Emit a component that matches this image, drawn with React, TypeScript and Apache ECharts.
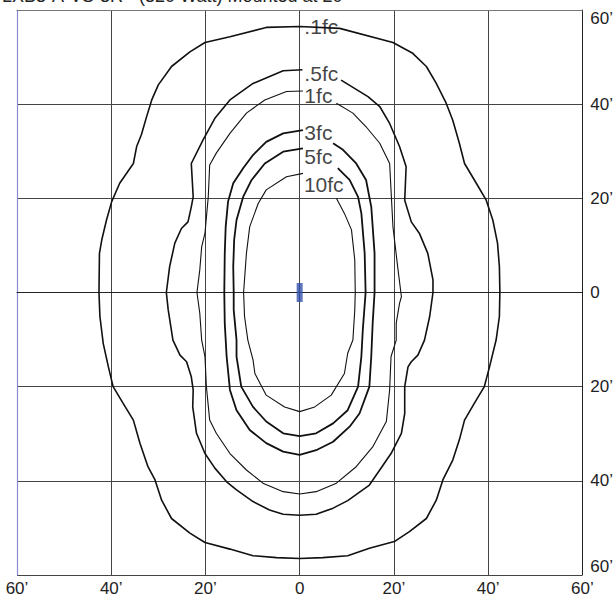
import React, { useEffect, useRef } from "react";
import * as echarts from "echarts";

const TITLE = "LXB3-A-VS-3R - (320 Watt) Mounted at 20’";
const AXIS_TICKS = [-60, -40, -20, 0, 20, 40, 60];

// Iso-footcandle contours, [x ft, y ft]
const fc01: number[][] = [
  [0, 56.5], [8.5, 56.1], [19.8, 53.1], [24.0, 50.8], [26.9, 48.0], [29.0, 44.4], [31.1, 40.2],
  [32.5, 36.6], [33.9, 31.7], [35.0, 27.4], [37.5, 23.2], [39.6, 19.6], [41.0, 15.4], [42.0, 10.5],
  [42.4, 5.5], [42.5, 0], [42.4, -5.1], [41.7, -10.1], [40.3, -15.8], [39.2, -20.0], [37.1, -23.5],
  [35.0, -27.1], [33.9, -31.3], [32.5, -35.6], [30.4, -39.8], [29.0, -44.1], [26.9, -48.0],
  [23.3, -50.8], [20.1, -52.9], [14.8, -54.3], [10.2, -55.9], [4.9, -56.3], [0, -56.5],
  [-4.9, -56.3], [-9.9, -55.9], [-14.8, -54.5], [-20.1, -53.1], [-23.3, -51.1], [-27.2, -48.0],
  [-29.3, -44.1], [-30.7, -39.8], [-32.2, -37.0], [-33.9, -32.0], [-35.3, -27.1], [-37.5, -23.5],
  [-39.6, -20.0], [-40.6, -15.8], [-41.7, -10.8], [-42.4, -5.1], [-42.6, 0], [-42.5, 8.3],
  [-42.0, 11.2], [-41.0, 15.4], [-39.9, 19.3], [-38.2, 23.2], [-35.3, 27.4], [-34.6, 31.0],
  [-33.6, 33.5], [-32.5, 37.3], [-31.4, 40.9], [-30.0, 44.1], [-27.2, 48.0], [-23.3, 51.1],
  [-20.1, 53.1], [-14.8, 54.3], [-7.1, 56.3], [0, 56.5],
];

const fc05: number[][] = [
  [8.8, 45.1], [14.5, 41.6], [17.0, 39.5], [19.1, 35.9], [21.2, 31.0], [22.6, 26.7], [22.3, 19.6],
  [23.7, 15.0], [25.4, 12.6], [27.2, 8.3], [28.3, 2.7], [28.3, 0], [27.6, -5.1], [26.5, -10.1],
  [25.1, -13.3], [23.7, -14.7], [23.0, -15.8], [22.3, -20.0], [22.3, -25.7], [21.6, -29.9],
  [19.4, -34.2], [17.0, -37.7], [14.8, -40.9], [10.2, -44.2], [7.1, -45.8], [3.5, -47.1], [0, -47.3],
  [-3.5, -47.1], [-6.4, -46.2], [-9.9, -44.4], [-13.4, -41.9], [-15.5, -40.2], [-18.0, -37.3],
  [-20.1, -34.2], [-21.9, -29.9], [-22.7, -24.3], [-22.6, -20.7], [-23.0, -17.9], [-24.0, -14.7],
  [-25.4, -13.3], [-26.9, -10.1], [-27.9, -3.7], [-28.3, 0], [-27.6, 5.5], [-26.5, 10.5],
  [-25.1, 13.6], [-23.7, 15.0], [-23.0, 18.2], [-22.6, 20.3], [-23.0, 27.4], [-20.5, 32.4],
  [-18.0, 37.0], [-14.8, 40.9], [-9.9, 44.4], [-3.5, 47.1], [0.6, 47.3],
];

const fc1: number[][] = [
  [7.8, 40.2], [11.3, 38.1], [14.1, 35.2], [17.0, 31.7], [19.1, 27.4], [19.8, 14.0], [20.8, 5.5],
  [21.6, -0.9], [21.2, -2.3], [20.5, -6.5], [20.5, -10.1], [19.4, -13.6], [19.1, -20.7],
  [18.4, -27.4], [15.5, -32.8], [12.0, -37.0], [7.8, -40.5], [3.5, -42.3], [0, -42.8],
  [-3.5, -42.3], [-7.8, -40.5], [-11.3, -37.7], [-14.8, -34.2], [-17.7, -29.9], [-19.1, -27.1],
  [-19.8, -20.0], [-20.1, -13.6], [-20.8, -10.1], [-21.2, -4.4], [-21.8, 0], [-21.2, 4.8],
  [-20.8, 9.7], [-20.1, 12.6], [-19.4, 20.3], [-19.1, 27.1], [-17.7, 29.6], [-14.8, 33.8],
  [-11.3, 38.1], [-7.4, 40.9], [-2.8, 42.7], [0.7, 42.8],
];

const fc3: number[][] = [
  [7.1, 31.7], [9.2, 30.3], [12.0, 27.4], [14.1, 23.9], [15.2, 18.2], [15.9, 8.3], [15.9, 0],
  [15.5, -6.5], [15.2, -13.6], [14.8, -20.0], [12.7, -25.7], [10.6, -28.5], [7.1, -31.7],
  [3.5, -33.5], [0, -34.5], [-3.5, -33.8], [-7.1, -32.0], [-10.6, -29.2], [-13.4, -25.0],
  [-14.8, -20.7], [-15.5, -13.6], [-15.9, -6.5], [-16.0, 0], [-15.9, 8.3], [-15.7, 14.0],
  [-15.2, 19.3], [-14.1, 23.2], [-12.0, 26.4], [-9.9, 29.2], [-7.1, 32.0], [-3.5, 33.8], [0.7, 34.5],
];

const fc5: number[][] = [
  [8.1, 26.4], [10.6, 23.9], [12.4, 20.3], [13.1, 16.8], [13.8, 8.3], [14.0, 0], [13.4, -8.0],
  [13.1, -13.6], [12.4, -20.0], [10.2, -25.0], [7.1, -27.8], [3.5, -29.9], [0, -30.5],
  [-3.5, -29.9], [-7.1, -27.4], [-9.9, -24.3], [-12.4, -20.0], [-13.4, -13.6], [-13.4, -10.1],
  [-14.0, -3.7], [-14.0, 0], [-14.1, 5.5], [-13.9, 11.2], [-13.4, 15.4], [-12.0, 20.3],
  [-10.2, 23.9], [-7.4, 27.4], [-3.5, 29.9], [0.7, 30.6],
];

const fc10: number[][] = [
  [7.8, 20.0], [9.5, 16.8], [11.0, 13.3], [11.7, 6.9], [11.8, 0], [11.7, -3.7], [11.3, -10.1],
  [10.2, -12.9], [9.5, -17.2], [6.7, -21.8], [3.2, -24.3], [0, -25.3], [-3.2, -24.3],
  [-7.1, -21.8], [-9.5, -17.2], [-9.9, -14.3], [-11.0, -10.1], [-11.7, -5.1], [-11.9, 0],
  [-11.3, 8.3], [-10.6, 14.0], [-8.8, 18.9], [-7.1, 21.8], [-2.8, 24.6], [0.7, 25.3],
];

const CONTOUR_LABELS = [".1fc", ".5fc", "1fc", "3fc", "5fc", "10fc"];
const LABEL_X = [1.0, 1.0, 1.0, 1.0, 1.0, 0.9];
const LABEL_Y = [56.4, 46.6, 41.9, 33.9, 28.9, 23.0];

const LUMINAIRE = [[0, 0]];

const FONT = '"Liberation Sans", Arial, Helvetica, sans-serif';

function fmt(v: number) {
  return v === 0 ? "0" : Math.abs(v) + "’";
}

export default function App() {
  const ref = useRef<HTMLDivElement>(null);
  useEffect(() => {
    if (!ref.current) return;
    const chart = echarts.init(ref.current, undefined, { renderer: "svg" });
    const contours = [
      { d: fc01, w: 1.6 },
      { d: fc05, w: 1.6 },
      { d: fc1, w: 1.1 },
      { d: fc3, w: 1.8 },
      { d: fc5, w: 1.8 },
      { d: fc10, w: 1.1 },
    ];
    chart.setOption({
      animation: false,
      textStyle: { fontFamily: FONT },
      grid: { left: 17, right: 33, top: 10, bottom: 24, show: false },
      graphic: [
        {
          type: "text",
          left: 2,
          top: -13,
          style: { text: TITLE, font: "18px " + FONT, fill: "#222" },
        },
      ],
      xAxis: [
        {
          type: "value",
          min: AXIS_TICKS[0],
          max: AXIS_TICKS[AXIS_TICKS.length - 1],
          interval: 20,
          axisLine: { show: true, lineStyle: { color: "#222", width: 1 } },
          axisTick: { show: false },
          splitLine: { show: true, lineStyle: { color: "#444", width: 1 } },
          axisLabel: { fontSize: 17, color: "#222", margin: 5, formatter: fmt, fontFamily: FONT },
        },
        {
          type: "value",
          position: "top",
          min: -60,
          max: 60,
          interval: 20,
          axisLine: { show: true, onZero: false, lineStyle: { color: "#777", width: 1 } },
          axisTick: { show: false },
          splitLine: { show: false },
          axisLabel: { show: false },
        },
      ],
      yAxis: [
        {
          type: "value",
          position: "right",
          min: -60,
          max: 60,
          interval: 20,
          axisLine: { show: true, onZero: false, lineStyle: { color: "#222", width: 1 } },
          axisTick: { show: false },
          splitLine: { show: true, lineStyle: { color: "#444", width: 1 } },
          axisLabel: {
            fontSize: 17,
            color: "#222",
            margin: 8,
            formatter: fmt,
            fontFamily: FONT,
            verticalAlignMinLabel: "bottom",
            verticalAlignMaxLabel: "top",
          },
        },
        {
          type: "value",
          position: "left",
          min: -60,
          max: 60,
          interval: 20,
          axisLine: { show: true, onZero: false, lineStyle: { color: "#8a8ad0", width: 1.2 } },
          axisTick: { show: false },
          splitLine: { show: false },
          axisLabel: { show: false },
        },
      ],
      series: [
        ...contours.map((c, i) => ({
          type: "line",
          name: CONTOUR_LABELS[i],
          data: c.d,
          showSymbol: false,
          symbol: "none",
          smooth: false,
          silent: true,
          lineStyle: { color: "#111", width: c.w },
          z: 3,
        })),
        {
          type: "scatter",
          data: LUMINAIRE,
          symbol: "rect",
          symbolSize: [6, 19],
          itemStyle: { color: "#3350ad" },
          silent: true,
          z: 4,
        },
        {
          type: "scatter",
          data: CONTOUR_LABELS.map((t, i) => [LABEL_X[i], LABEL_Y[i], t]),
          symbolSize: 0,
          silent: true,
          z: 5,
          label: {
            show: true,
            position: "inside",
            align: "left",
            verticalAlign: "middle",
            formatter: (p: any) => p.value[2],
            fontSize: 21,
            color: "#111",
            fontFamily: FONT,
          },
        },
      ],
    });
    return () => chart.dispose();
  }, []);
  return (
    <div
      ref={ref}
      style={{ position: "fixed", left: 0, top: 0, width: 616, height: 599, background: "#fff" }}
    />
  );
}
